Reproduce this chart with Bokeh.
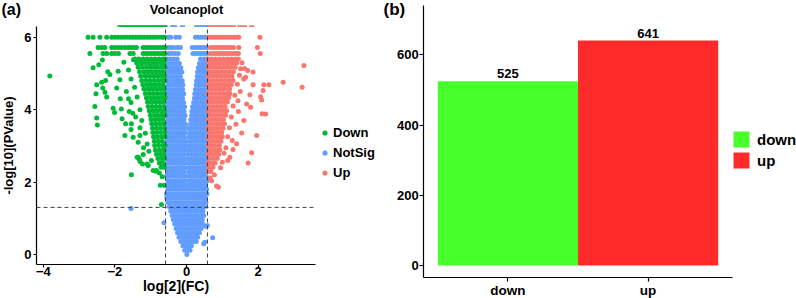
from bokeh.plotting import figure
from bokeh.models import (Range1d, FixedTicker, Label, Legend, LegendItem, ColumnDataSource)
from bokeh.layouts import row
from bokeh.embed import file_html
from bokeh.resources import INLINE
from bokeh.core.properties import value

FONT = "Liberation Sans"

# ---------------- data: panel (a) volcano plot ----------------
volcano_xticks = [-4, -2, 0, 2]
volcano_yticks = [0, 2, 4, 6]
volcano_xlim = (-4.19, 3.603)     # panel limits of the volcano plot
volcano_ylim = (-0.276, 6.31)
fc_cut = 0.585
p_cut = 1.301

# NotSig (blue) points, read row by row
notsig_rows_y = [0.00, 0.12, 0.24, 0.36, 0.48, 0.60, 0.72, 0.84, 0.96, 1.08, 1.20, 1.32, 1.44, 1.56,
                 1.68, 1.80, 1.92, 2.04, 2.16, 2.28, 2.40, 2.52, 2.64, 2.76, 2.88, 3.00, 3.12, 3.24,
                 3.36, 3.48, 3.60, 3.72, 3.84, 3.96, 4.08, 4.20, 4.32, 4.44, 4.56, 4.68, 4.80, 4.92,
                 5.04, 5.16, 5.28, 5.40, 5.55, 5.72, 6.00]
notsig_rows_x = [
    [0.01],
    [-0.05, 0.04, 0.1],
    [-0.1, -0.02, 0.06, 0.14],
    [-0.16, -0.07, 0.02, 0.11, 0.2, 0.27],
    [-0.21, -0.12, -0.03, 0.06, 0.15, 0.24, 0.31],
    [-0.25, -0.16, -0.07, 0.02, 0.11, 0.2, 0.29, 0.36],
    [-0.29, -0.2, -0.11, -0.02, 0.07, 0.16, 0.25, 0.34, 0.41],
    [-0.33, -0.24, -0.15, -0.06, 0.03, 0.12, 0.21, 0.3, 0.39, 0.45],
    [-0.37, -0.28, -0.19, -0.1, -0.01, 0.08, 0.17, 0.26, 0.35, 0.44],
    [-0.4, -0.31, -0.22, -0.13, -0.04, 0.05, 0.14, 0.23, 0.32, 0.41, 0.48],
    [-0.44, -0.35, -0.26, -0.17, -0.08, 0.01, 0.1, 0.19, 0.28, 0.37, 0.46],
    [-0.48, -0.39, -0.3, -0.21, -0.12, -0.03, 0.06, 0.15, 0.24, 0.33, 0.42, 0.5],
    [-0.52, -0.43, -0.34, -0.25, -0.16, -0.07, 0.02, 0.11, 0.2, 0.29, 0.38, 0.47, 0.54],
    [-0.55, -0.46, -0.37, -0.28, -0.19, -0.1, -0.01, 0.08, 0.17, 0.26, 0.35, 0.44, 0.53],
    [-0.56, -0.47, -0.38, -0.29, -0.2, -0.11, -0.02, 0.07, 0.16, 0.25, 0.34, 0.43, 0.52, 0.57],
    [-0.52, -0.43, -0.34, -0.25, -0.16, -0.07, 0.03, 0.12, 0.21, 0.3, 0.39, 0.48, 0.56],
    [-0.56, -0.47, -0.38, -0.29, -0.2, -0.11, -0.03, 0.08, 0.17, 0.26, 0.35, 0.44, 0.53],
    [-0.52, -0.43, -0.34, -0.25, -0.16, -0.07, 0.05, 0.13, 0.22, 0.31, 0.4, 0.49, 0.57],
    [-0.56, -0.47, -0.38, -0.29, -0.2, -0.11, -0.02, 0.09, 0.18, 0.27, 0.36, 0.45, 0.54],
    [-0.52, -0.43, -0.34, -0.25, -0.16, -0.07, 0.06, 0.14, 0.23, 0.32, 0.41, 0.5, 0.57],
    [-0.56, -0.47, -0.38, -0.29, -0.2, -0.11, -0.03, 0.08, 0.17, 0.26, 0.35, 0.44, 0.53],
    [-0.52, -0.43, -0.34, -0.25, -0.16, -0.07, 0.05, 0.13, 0.22, 0.31, 0.4, 0.49, 0.57],
    [-0.56, -0.47, -0.38, -0.29, -0.2, -0.11, -0.01, 0.1, 0.19, 0.28, 0.37, 0.46, 0.55],
    [-0.52, -0.43, -0.34, -0.25, -0.16, -0.07, 0.04, 0.14, 0.23, 0.32, 0.41, 0.5, 0.57],
    [-0.56, -0.47, -0.38, -0.29, -0.2, -0.11, -0.04, 0.08, 0.17, 0.26, 0.35, 0.44, 0.53],
    [-0.52, -0.43, -0.34, -0.25, -0.16, -0.07, 0.02, 0.12, 0.21, 0.3, 0.39, 0.48, 0.57],
    [-0.56, -0.47, -0.38, -0.29, -0.2, -0.11, -0.02, 0.09, 0.18, 0.27, 0.36, 0.45, 0.54],
    [-0.52, -0.43, -0.34, -0.25, -0.16, -0.07, 0.06, 0.14, 0.23, 0.32, 0.41, 0.5, 0.57],
    [-0.56, -0.47, -0.38, -0.29, -0.2, -0.11, -0.03, 0.1, 0.19, 0.28, 0.37, 0.46, 0.55],
    [-0.52, -0.43, -0.34, -0.25, -0.16, -0.07, 0.04, 0.13, 0.22, 0.31, 0.4, 0.49, 0.57],
    [-0.56, -0.47, -0.38, -0.29, -0.2, -0.11, -0.03, 0.11, 0.2, 0.29, 0.38, 0.47, 0.56],
    [-0.52, -0.43, -0.34, -0.25, -0.16, -0.07, 0.12, 0.21, 0.3, 0.39, 0.48, 0.57],
    [-0.56, -0.47, -0.38, -0.29, -0.2, -0.11, -0.04, 0.14, 0.23, 0.32, 0.41, 0.5, 0.57],
    [-0.52, -0.43, -0.34, -0.25, -0.16, -0.07, 0.15, 0.24, 0.33, 0.42, 0.51, 0.57],
    [-0.56, -0.47, -0.38, -0.29, -0.2, -0.11, -0.05, 0.17, 0.26, 0.35, 0.44, 0.53],
    [-0.52, -0.43, -0.34, -0.25, -0.16, -0.08, 0.2, 0.28, 0.37, 0.46, 0.55],
    [-0.56, -0.47, -0.38, -0.29, -0.2, -0.11, 0.22, 0.31, 0.4, 0.49, 0.57],
    [-0.52, -0.43, -0.34, -0.25, -0.16, -0.08, 0.23, 0.32, 0.41, 0.5, 0.57],
    [-0.56, -0.47, -0.38, -0.29, -0.2, -0.11, 0.25, 0.34, 0.43, 0.52],
    [-0.52, -0.43, -0.34, -0.25, -0.16, -0.1, 0.27, 0.36, 0.45, 0.54],
    [-0.56, -0.47, -0.38, -0.29, -0.2, -0.12, 0.28, 0.37, 0.46, 0.55],
    [-0.52, -0.43, -0.34, -0.25, -0.17, 0.3, 0.39, 0.48, 0.57],
    [-0.56, -0.47, -0.38, -0.29, -0.2, -0.13, 0.31, 0.4, 0.49, 0.57],
    [-0.52, -0.43, -0.34, -0.25, -0.16, 0.33, 0.42, 0.51],
    [-0.56, -0.47, -0.38, -0.29, -0.2, 0.36, 0.45, 0.54],
    [-0.53, -0.44, -0.35, -0.26, 0.39, 0.48, 0.57],
    [-0.5, -0.41, -0.32, -0.23, 0.18, 0.26, 0.34, 0.42, 0.5, 0.57],
    [-0.51, -0.43, -0.35, -0.25, -0.17, 0.16, 0.24, 0.32, 0.4, 0.48, 0.56],
    [-0.51, -0.44, -0.3, -0.2, 0.25, 0.33, 0.41, 0.49, 0.56],
]
notsig_extra_x = [-1.55, -0.63, 0.73, 0.58, 0.51, 0.53, 0.48]
notsig_extra_y = [1.27, 0.88, 0.46, 0.8, 0.34, 0.78, 0.3]
notsig_cap_x = [-0.39, -0.33, -0.11, 0.28, 0.36, 0.44, 0.52, 0.58]   # points at the top edge

# Down (green) points
down_rows_y = [6.00, 5.72, 5.55, 5.40, 5.29, 5.17, 5.05, 4.93, 4.81, 4.69, 4.57, 4.45, 4.33,
               4.21, 4.09, 3.97, 3.85, 3.73, 3.61, 3.49, 3.37, 3.25, 3.13, 3.01, 2.89, 2.77,
               2.65, 2.53, 2.41]
down_rows_x = [
    [-2.75, -2.61, -2.42, -2.23, -2.09, -2.0, -1.91, -1.82, -1.74, -1.66, -1.58, -1.5, -1.42, -1.34,
     -1.26, -1.18, -1.1, -1.02, -0.94, -0.86, -0.78, -0.7, -0.62],
    [-2.47, -2.37, -2.28, -2.09, -2.0, -1.91, -1.82, -1.72, -1.63, -1.55, -1.47, -1.4, -1.21, -1.13,
     -1.05, -0.97, -0.89, -0.81, -0.73, -0.65, -0.6],
    [-2.7, -2.33, -2.23, -2.09, -2.0, -1.9, -1.58, -1.49, -1.21, -1.13, -1.05, -0.97, -0.89, -0.81,
     -0.73, -0.65, -0.6],
    [-1.44, -1.33, -1.21, -1.1, -0.99, -0.88, -0.77, -0.66, -0.6],
    [-1.39, -1.28, -1.17, -1.05, -0.95, -0.84, -0.73, -0.63],
    [-1.35, -1.24, -1.12, -1.01, -0.9, -0.8, -0.69, -0.6],
    [-1.31, -1.19, -1.08, -0.97, -0.86, -0.75, -0.65],
    [-1.28, -1.16, -1.04, -0.93, -0.82, -0.71, -0.61],
    [-1.25, -1.13, -1.02, -0.9, -0.79, -0.68, -0.6],
    [-1.22, -1.1, -0.99, -0.88, -0.77, -0.66],
    [-1.19, -1.07, -0.96, -0.85, -0.74, -0.63],
    [-1.15, -1.04, -0.93, -0.82, -0.71, -0.61],
    [-1.12, -1.01, -0.9, -0.79, -0.68, -0.6],
    [-1.09, -0.98, -0.87, -0.76, -0.66],
    [-1.07, -0.96, -0.85, -0.74, -0.63],
    [-1.04, -0.93, -0.82, -0.71, -0.61],
    [-1.01, -0.9, -0.8, -0.69, -0.6],
    [-0.99, -0.88, -0.77, -0.66],
    [-0.97, -0.86, -0.75, -0.64],
    [-0.95, -0.84, -0.73, -0.62],
    [-0.94, -0.83, -0.72, -0.61],
    [-0.92, -0.81, -0.7, -0.6],
    [-0.9, -0.79, -0.68],
    [-0.89, -0.78, -0.67, -0.6],
    [-0.87, -0.76, -0.65],
    [-0.84, -0.73, -0.63],
    [-0.8, -0.7, -0.61],
    [-0.76, -0.66],
    [-0.71, -0.62],
]
down_extra_x = [-3.82, -2.61, -2.45, -2.14, -1.91, -1.86, -2.37, -2.51, -2.28, -2.53, -2.56, -2.05,
                -1.82, -2.51, -2.49, -1.8, -1.72, -1.49, -1.54, -1.3, -1.35, -1.3, -1.23, -1.07,
                -1.54, -0.93, -0.84, -0.73, -0.62, -0.7, -2.26, -2.34, -2.23, -2.01, -1.7, -2.35,
                -2.2, -1.75, -1.62, -1.55, -1.95, -1.68, -1.45, -1.85, -1.55, -1.38, -1.6, -1.3,
                -1.42, -1.25, -1.55, -1.3, -1.15, -1.35, -1.1, -1.2, -1.05, -0.98, -1.1, -0.85,
                -0.76, -0.68, -1.21, -1.38, -1.32, -1.5, -1.62, -1.48]
down_extra_y = [4.93, 5.16, 5.24, 4.97, 5.06, 4.83, 4.76, 4.69, 4.48, 4.44, 4.09, 4.04,
                4.02, 3.77, 3.58, 3.75, 3.29, 3.24, 3.61, 3.29, 2.69, 2.57, 2.5, 2.46,
                2.2, 2.32, 2.32, 1.91, 1.91, 1.38, 4.81, 4.6, 4.35, 3.92, 3.61, 5.37,
                5.05, 5.31, 5.1, 4.85, 4.6, 4.5, 4.62, 4.3, 4.2, 4.35, 3.95, 4.0,
                3.8, 3.7, 3.45, 3.5, 3.35, 3.1, 3.05, 2.95, 2.85, 2.6, 2.5, 2.3,
                2.25, 2.15, 2.76, 2.69, 2.64, 3.9, 4.3, 5.38]
down_cap_x = [-1.86, -1.78, -1.7, -1.62, -1.54, -1.46, -1.38, -1.3, -1.22, -1.14, -1.06, -0.98,
              -0.9, -0.82, -0.74, -0.66, -0.6]

# Up (red) points
up_rows_y = [6.00, 5.72, 5.55, 5.40, 5.29, 5.17, 5.05, 4.93, 4.81, 4.69, 4.57, 4.45, 4.33,
             4.21, 4.09, 3.97, 3.85, 3.73, 3.61, 3.49, 3.37, 3.25, 3.13, 3.01, 2.89, 2.77,
             2.65, 2.53, 2.41, 2.29]
up_rows_x = [
    [0.62, 0.7, 0.78, 0.86, 0.94, 1.02, 1.1, 1.18, 1.26, 1.34, 1.42, 1.46, 2.05],
    [0.67, 0.75, 0.83, 0.91, 0.99, 1.07, 1.15, 1.23, 1.31, 1.46, 1.98],
    [0.67, 0.75, 0.83, 0.91, 0.99, 1.07, 1.15, 1.23, 1.31, 1.39, 1.45, 2.06],
    [0.6, 0.7, 0.81, 0.92, 1.03, 1.14, 1.25, 1.36, 1.45],
    [0.63, 0.74, 0.85, 0.96, 1.07, 1.18, 1.29, 1.4],
    [0.6, 0.69, 0.8, 0.91, 1.02, 1.13, 1.24, 1.36],
    [0.65, 0.76, 0.87, 0.98, 1.09, 1.2, 1.31],
    [0.6, 0.71, 0.82, 0.93, 1.04, 1.15, 1.27],
    [0.64, 0.75, 0.86, 0.97, 1.08, 1.19, 1.3],
    [0.6, 0.7, 0.81, 0.92, 1.03, 1.14, 1.25],
    [0.64, 0.75, 0.86, 0.97, 1.08, 1.2],
    [0.6, 0.7, 0.81, 0.92, 1.03, 1.14, 1.21],
    [0.65, 0.76, 0.87, 0.98, 1.09, 1.18],
    [0.6, 0.7, 0.81, 0.92, 1.03, 1.14],
    [0.64, 0.75, 0.86, 0.97, 1.08],
    [0.6, 0.7, 0.81, 0.92, 1.03, 1.12],
    [0.65, 0.76, 0.87, 0.98, 1.09],
    [0.6, 0.7, 0.81, 0.92, 1.03],
    [0.64, 0.75, 0.86, 0.97, 1.06],
    [0.6, 0.7, 0.81, 0.92, 1.02],
    [0.65, 0.76, 0.87, 0.98],
    [0.6, 0.7, 0.81, 0.92, 1.0],
    [0.64, 0.75, 0.86, 0.96],
    [0.6, 0.7, 0.81, 0.92],
    [0.65, 0.76, 0.87, 0.93],
    [0.6, 0.7, 0.81, 0.9],
    [0.64, 0.75, 0.86],
    [0.6, 0.7, 0.8],
    [0.63, 0.74],
    [0.6, 0.68],
]
up_extra_x = [3.28, 3.23, 2.7, 2.3, 2.16, 2.14, 1.86, 1.77, 2.1, 1.44, 1.68, 2.11, 2.21, 1.96,
              1.82, 1.72, 1.21, 1.54, 1.4, 0.7, 0.84, 0.89, 1.62, 1.86, 1.55, 1.48, 1.6, 1.42,
              1.5, 1.35, 1.3, 1.45, 1.25, 1.38, 1.2, 1.15, 1.28, 1.1, 1.05, 1.3, 1.0, 0.95,
              0.78, 0.66, 1.15, 1.6, 1.79, 1.65, 1.71, 1.51, 2.07]
up_extra_y = [5.22, 4.62, 4.76, 4.69, 4.69, 4.53, 4.69, 4.41, 4.27, 4.25, 4.16, 3.89, 3.88, 3.29,
              2.81, 2.53, 2.69, 3.36, 3.06, 2.04, 1.89, 1.86, 5.14, 5.04, 5.3, 4.95, 4.85, 4.7,
              4.5, 4.4, 4.1, 3.95, 3.8, 3.6, 3.5, 3.25, 3.15, 2.95, 2.8, 2.9, 2.55, 2.4,
              2.2, 2.12, 2.6, 3.7, 4.07, 4.9, 5.08, 5.13, 4.36]
up_cap_x = [0.67, 0.75, 0.83, 0.91, 0.99, 1.07, 1.15, 1.23, 1.31, 1.49, 1.62, 1.82]

# ---------------- data: panel (b) bar chart ----------------
bar_categories = ["down", "up"]
bar_counts = [525, 641]
bar_colors = ["#46FF2B", "#FF2A2A"]
bar_yticks = [0, 200, 400, 600]
bar_ylim = (-34.2, 740.8)


def flatten(rows_y, rows_x, extra_x, extra_y):
    xs, ys = [], []
    for yv, r in zip(rows_y, rows_x):
        xs += r
        ys += [yv] * len(r)
    return xs + extra_x, ys + extra_y


ns_x, ns_y = flatten(notsig_rows_y, notsig_rows_x, notsig_extra_x, notsig_extra_y)
dn_x, dn_y = flatten(down_rows_y, down_rows_x, down_extra_x, down_extra_y)
up_x, up_y = flatten(up_rows_y, up_rows_x, up_extra_x, up_extra_y)


def style_axes(p, size="13px"):
    for ax in (p.xaxis[0], p.yaxis[0]):
        ax.axis_line_color = "black"
        ax.axis_line_width = 1.2
        ax.major_tick_line_color = "black"
        ax.major_tick_line_width = 1.2
        ax.major_tick_in = 0
        ax.minor_tick_line_color = None
        ax.major_label_text_font = FONT
        ax.major_label_text_font_style = "bold"
        ax.major_label_text_font_size = size
        ax.major_label_text_color = "black"
        ax.axis_label_text_font = FONT
        ax.axis_label_text_font_style = "bold"
        ax.axis_label_text_color = "black"
    p.xgrid.grid_line_color = None
    p.ygrid.grid_line_color = None
    p.outline_line_color = None


# ---------------- panel (a) ----------------
WA, H = 380, 298
pa = figure(width=WA, height=H, output_backend="svg", toolbar_location=None,
            x_range=Range1d(-5.196, 5.419), y_range=Range1d(-1.2155, 7.017),
            min_border=0, min_border_left=0, min_border_right=0,
            min_border_top=0, min_border_bottom=0)
style_axes(pa)
pa.xaxis.fixed_location = volcano_ylim[0]
pa.yaxis.fixed_location = volcano_xlim[0]
pa.xaxis.bounds = volcano_xlim
pa.yaxis.bounds = volcano_ylim
pa.xaxis.ticker = FixedTicker(ticks=volcano_xticks)
pa.yaxis.ticker = FixedTicker(ticks=volcano_yticks)
pa.xaxis.major_tick_out = 3
pa.yaxis.major_tick_out = 3
pa.xaxis.major_label_standoff = 0
pa.yaxis.major_label_standoff = 2
pa.xaxis.axis_label = "log[2](FC)"
pa.yaxis.axis_label = "-log[10](PValue)"
pa.xaxis.axis_label_text_font_size = "14px"
pa.yaxis.axis_label_text_font_size = "13px"
pa.xaxis.axis_label_standoff = -2
pa.yaxis.axis_label_standoff = 5

r_ns = pa.scatter(ns_x, ns_y, size=5, fill_color="#619CFF", line_color=None)
r_dn = pa.scatter(dn_x, dn_y, size=5, fill_color="#00BA38", line_color=None)
r_up = pa.scatter(up_x, up_y, size=5, fill_color="#F8766D", line_color=None)
# points sitting on the top edge of the panel (only their lower rim shows)
top = volcano_ylim[1]
pa.scatter(notsig_cap_x, [top] * len(notsig_cap_x), marker="dash", size=5, line_width=1.6,
           line_color="#619CFF")
pa.scatter(down_cap_x, [top] * len(down_cap_x), marker="dash", size=5, line_width=1.6,
           line_color="#00BA38")
pa.scatter(up_cap_x, [top] * len(up_cap_x), marker="dash", size=5, line_width=1.6,
           line_color="#F8766D")

pa.segment(x0=[-fc_cut, fc_cut], x1=[-fc_cut, fc_cut],
           y0=[volcano_ylim[0]] * 2, y1=[volcano_ylim[1]] * 2,
           line_color="#404040", line_width=1, line_dash="4 3")
pa.segment(x0=[volcano_xlim[0]], x1=[volcano_xlim[1]], y0=[p_cut], y1=[p_cut],
           line_color="#404040", line_width=1, line_dash="4 3")

leg_a = Legend(items=[LegendItem(label="Down", renderers=[r_dn]),
                      LegendItem(label="NotSig", renderers=[r_ns]),
                      LegendItem(label="Up", renderers=[r_up])],
               location=(318, 118), glyph_width=13, glyph_height=13, label_height=13,
               label_standoff=2, spacing=5, padding=0, margin=0,
               border_line_color=None, background_fill_alpha=0,
               label_text_font=FONT, label_text_font_style="bold",
               label_text_font_size="13px", label_text_color="black")
pa.add_layout(leg_a)

pa.add_layout(Label(x=1, y=289, x_units="screen", y_units="screen", text="(a)",
                    text_font=FONT, text_font_style="bold", text_font_size="16px",
                    text_baseline="middle", text_align="left", text_color="black"))
pa.add_layout(Label(x=186, y=289.5, x_units="screen", y_units="screen", text="Volcanoplot",
                    text_font=FONT, text_font_style="bold", text_font_size="13px",
                    text_baseline="middle", text_align="center", text_color="black"))

# ---------------- panel (b) ----------------
bar_pos = [i + 1 for i in range(len(bar_categories))]
src = ColumnDataSource(dict(pos=bar_pos, n=bar_counts, col=bar_colors,
                            lab=[str(v) for v in bar_counts]))
WB = 416
pb = figure(width=WB, height=H, output_backend="svg", toolbar_location=None,
            x_range=Range1d(0.0912, 3.0584), y_range=Range1d(-94.0, 755.0),
            min_border=0, min_border_left=0, min_border_right=0,
            min_border_top=0, min_border_bottom=0)
style_axes(pb)
pb.xaxis.fixed_location = bar_ylim[0]
pb.yaxis.fixed_location = 0.4
pb.xaxis.bounds = (0.4, 2.6)
pb.yaxis.bounds = bar_ylim
pb.yaxis.ticker = FixedTicker(ticks=bar_yticks)
pb.xaxis.ticker = FixedTicker(ticks=bar_pos)
pb.xaxis.major_label_overrides = {p: c for p, c in zip(bar_pos, bar_categories)}
pb.xaxis.major_tick_out = 4
pb.yaxis.major_tick_out = 4
pb.xaxis.major_label_standoff = 1
pb.yaxis.major_label_standoff = 1
pb.xaxis.major_label_text_font_size = "13.5px"

r_bar = pb.vbar(x="pos", top="n", width=1.0, bottom=0, fill_color="col", line_color=None,
                source=src)
pb.text(x="pos", y="n", text="lab", source=src, text_align="center", text_baseline="bottom",
        y_offset=-3, text_font=value(FONT), text_font_style="bold", text_font_size="13px",
        text_color="black")

leg_b = Legend(items=[LegendItem(label="down", renderers=[r_bar], index=0),
                      LegendItem(label="up", renderers=[r_bar], index=1)],
               location=(351, 128), glyph_width=20, glyph_height=20, label_height=20,
               label_standoff=6, spacing=1, padding=0, margin=0,
               border_line_color=None, background_fill_alpha=0,
               label_text_font=FONT, label_text_font_style="bold",
               label_text_font_size="15px", label_text_color="black")
pb.add_layout(leg_b)

pb.add_layout(Label(x=3, y=289, x_units="screen", y_units="screen", text="(b)",
                    text_font=FONT, text_font_style="bold", text_font_size="17px",
                    text_baseline="middle", text_align="left", text_color="black"))

layout = row(pa, pb)
open("out.html", "w").write(file_html(layout, INLINE))
